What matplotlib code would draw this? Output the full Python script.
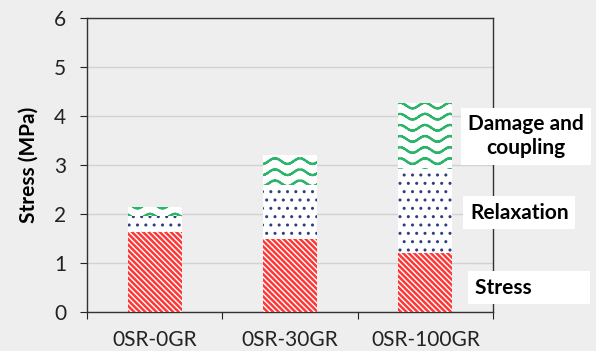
import numpy as np
import matplotlib
matplotlib.use('Agg')
from matplotlib import pyplot as plt
from matplotlib import hatch as mhatch
from matplotlib.path import Path

# Data (MPa), stacked components for each specimen
categories = ['0SR-0GR', '0SR-30GR', '0SR-100GR']
stress = [1.63, 1.49, 1.20]
relaxation = [0.33, 1.10, 1.72]
damage = [0.18, 0.61, 1.35]
component_labels = ['Damage and\ncoupling', 'Relaxation', 'Stress']


# custom wavy hatch, used with the 'w' character
class WaveHatch(mhatch.HatchPatternBase):
    rows = 9
    waves = 4
    steps = 12

    def __init__(self, hatch, density):
        self.on = 'w' in hatch
        self.num_vertices = self.rows * self.waves * self.steps * 2 if self.on else 0

    def set_vertices_and_codes(self, vertices, codes):
        n = self.waves * self.steps
        t = np.linspace(0, 1, n + 1)
        k = 0
        for r in range(self.rows):
            y = (r + 0.5) / self.rows + 0.028 * np.cos(2 * np.pi * self.waves * t)
            for i in range(n):
                vertices[k] = t[i], y[i]
                vertices[k + 1] = t[i + 1], y[i + 1]
                codes[k] = Path.MOVETO
                codes[k + 1] = Path.LINETO
                k += 2


mhatch._hatch_types.append(WaveHatch)

plt.rcParams['font.family'] = ['Lato', 'DejaVu Sans']

bg = '#eeeeee'
fig = plt.figure(figsize=(5.96, 3.51), dpi=100, facecolor=bg)
ax = fig.add_axes([87 / 596, 39 / 351, 406 / 596, 294 / 351])
ax.set_facecolor(bg)

x = np.arange(len(categories))
w = 0.4
bottom2 = np.array(stress) + np.array(relaxation)


def hatched_bar(values, bottom, color, hatch, lw):
    with plt.rc_context({'hatch.linewidth': lw}):
        bars = ax.bar(x, values, w, bottom=bottom, color='white', edgecolor=color,
                      linewidth=0, hatch=hatch, zorder=3)
    for b in bars:
        if hasattr(b, 'set_hatch_linewidth'):
            b.set_hatch_linewidth(lw)
    return bars


hatched_bar(stress, 0, '#ff3636', '\\' * 6, 1.8)
hatched_bar(relaxation, stress, '#2e3f7f', '..', 1.0)
hatched_bar(damage, bottom2, '#2cb56a', 'w', 1.6)

ax.set_xlim(-0.5, 2.5)
ax.set_ylim(0, 6)
ax.set_yticks(range(7))
ax.yaxis.grid(True, color='#d2d2d2', linewidth=1, zorder=0)
ax.set_xticks([-0.5, 0.5, 1.5, 2.5])
ax.set_xticklabels([])
ax.set_xticks(x, minor=True)
ax.set_xticklabels(categories, minor=True)
ax.tick_params(axis='x', which='minor', length=0, pad=13)
ax.tick_params(axis='x', which='major', length=5, color='#222222')
ax.tick_params(axis='y', length=5, color='#222222', pad=10)
ax.tick_params(axis='both', which='both', labelsize=15, labelcolor='#222222')
for s in ax.spines.values():
    s.set_color('#333333')
    s.set_linewidth(1)

ax.set_ylabel('Stress (MPa)', fontsize=15, fontweight='bold', labelpad=11)

# component labels next to the last bar
box = dict(facecolor='white', edgecolor='none', pad=5)
ax.text(2.315, 3.59, component_labels[0], fontsize=15, fontweight='bold',
        ha='left', va='center', multialignment='center', bbox=box, clip_on=False)
ax.text(2.33, 2.03, component_labels[1], fontsize=15, fontweight='bold',
        ha='left', va='center', bbox=box, clip_on=False)
ax.text(2.367, 0.5, component_labels[2] + ' ' * 10, fontsize=15, fontweight='bold',
        ha='left', va='center', bbox=box, clip_on=False)

fig.savefig('out.png', dpi=100, facecolor=bg)
